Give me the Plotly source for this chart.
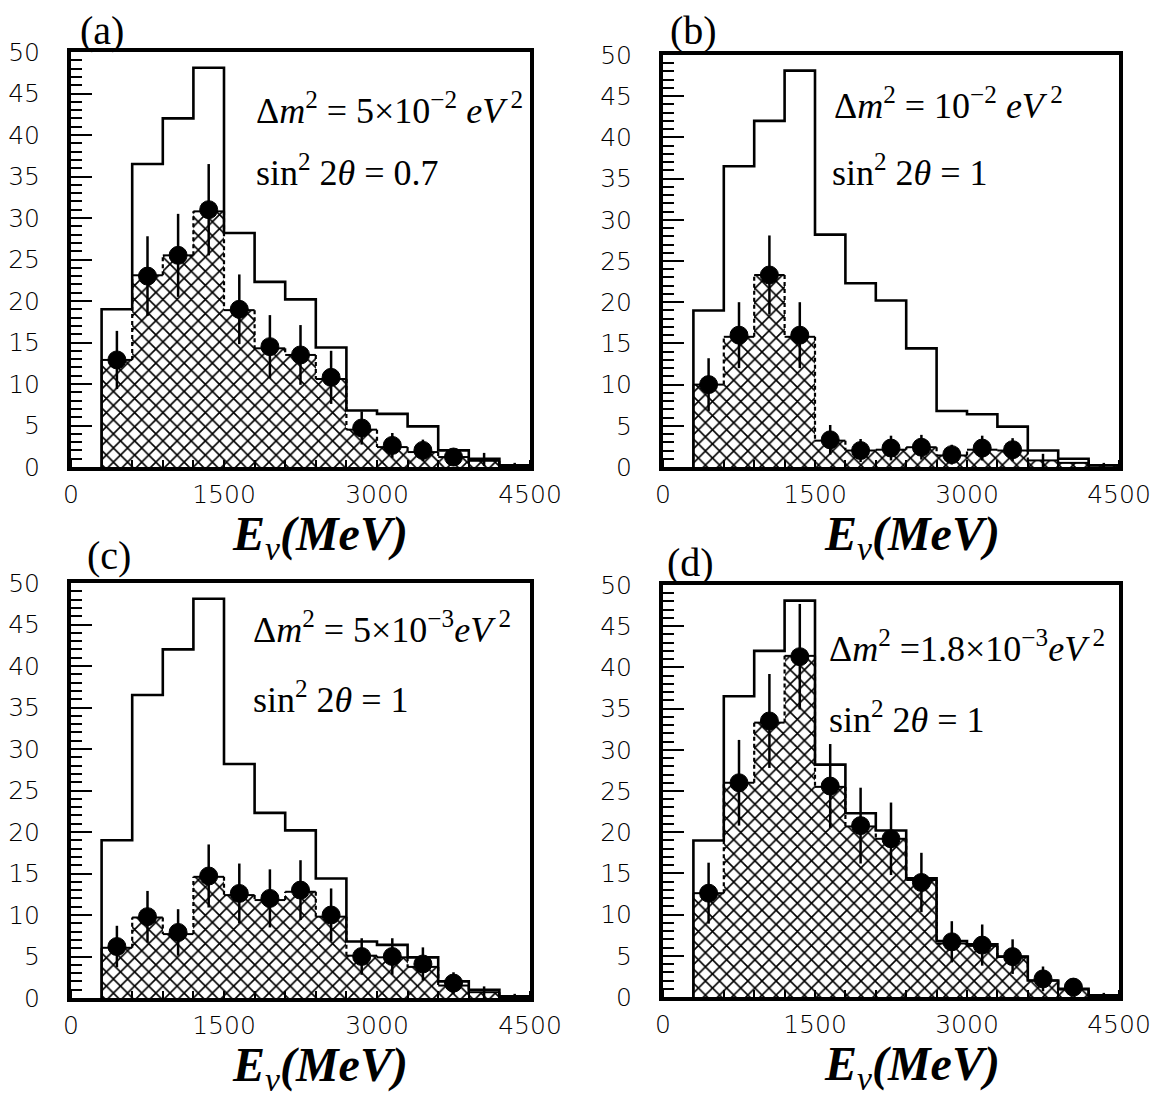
import plotly.graph_objects as go

# ---------------- data ----------------
bin_lo = 300
bin_w = 300
n_bins = 14
centers = [bin_lo + bin_w * (i + 0.5) for i in range(n_bins)]
edges = [bin_lo + bin_w * i for i in range(n_bins + 1)]

# no-oscillation expectation (open histogram), same in all panels
unosc = [19.0, 36.5, 42.0, 48.1, 28.2, 22.3, 20.2, 14.4, 6.8, 6.4, 4.9, 2.0, 1.0, 0.2]

# (a) dm2 = 5e-2, sin^2 2theta = 0.7
a_mc = [12.9, 23.1, 25.5, 30.8, 18.9, 14.3, 13.5, 10.6, 4.5, 2.4, 1.8, 1.2, 0.75, 0.1]
a_data = [12.9, 23.0, 25.5, 31.0, 19.0, 14.5, 13.5, 10.8, 4.7, 2.6, 2.0, 1.2, 0.9, 0.0]
a_err = [3.5, 4.8, 5.0, 5.5, 4.2, 3.8, 3.6, 3.2, 2.0, 1.5, 1.3, 1.0, 0.8, 0.5]
a_nmarked = 12

# (b) dm2 = 1e-2, sin^2 2theta = 1
b_mc = [10.0, 15.8, 23.3, 15.8, 3.2, 2.0, 2.1, 2.4, 1.4, 2.1, 2.0, 0.8, 0.5, 0.2]
b_data = [10.0, 16.0, 23.3, 16.0, 3.3, 2.0, 2.3, 2.4, 1.5, 2.3, 2.1, 0.8, 0.0, 0.0]
b_err = [3.2, 4.0, 4.8, 4.0, 1.8, 1.4, 1.5, 1.5, 1.2, 1.5, 1.4, 0.8, 0.0, 0.5]
b_nmarked = 11

# (c) dm2 = 5e-3, sin^2 2theta = 1
c_mc = [6.05, 9.7, 7.7, 14.6, 12.4, 11.8, 12.8, 9.8, 5.1, 4.9, 3.75, 1.5, 0.7, 0.1]
c_data = [6.2, 9.8, 7.9, 14.7, 12.6, 12.0, 13.0, 10.0, 5.0, 5.0, 4.1, 1.8, 0.7, 0.0]
c_err = [2.5, 3.1, 2.8, 3.8, 3.6, 3.5, 3.6, 3.2, 2.2, 2.2, 2.0, 1.3, 0.7, 0.5]
c_nmarked = 12

# (d) dm2 = 1.8e-3, sin^2 2theta = 1
d_mc = [12.6, 26.0, 33.3, 41.4, 25.5, 20.7, 19.2, 14.2, 6.5, 6.2, 4.9, 2.0, 0.9, 0.1]
d_data = [12.6, 26.0, 33.5, 41.3, 25.6, 20.8, 19.2, 13.9, 6.7, 6.3, 4.9, 2.2, 1.2, 0.0]
d_err = [3.7, 5.2, 5.7, 6.4, 5.1, 4.6, 4.4, 3.6, 2.5, 2.5, 2.1, 1.5, 1.1, 0.5]
d_nmarked = 13

panel_labels = ["(a)", "(b)", "(c)", "(d)"]
dm2_texts = [
    "Δ<i>m</i><sup>2</sup> = 5×10<sup>−2</sup> <i>eV</i><sup> 2</sup>",
    "Δ<i>m</i><sup>2</sup> = 10<sup>−2</sup> <i>eV</i><sup> 2</sup>",
    "Δ<i>m</i><sup>2</sup> = 5×10<sup>−3</sup><i>eV</i><sup> 2</sup>",
    "Δ<i>m</i><sup>2</sup> =1.8×10<sup>−3</sup><i>eV</i><sup> 2</sup>",
]
sin_texts = [
    "sin<sup>2</sup> 2<i>θ</i> = 0.7",
    "sin<sup>2</sup> 2<i>θ</i> = 1",
    "sin<sup>2</sup> 2<i>θ</i> = 1",
    "sin<sup>2</sup> 2<i>θ</i> = 1",
]
x_ticks = [0, 1500, 3000, 4500]
x_title = "<b><i>E</i></b><sub><i>ν</i></sub><b><i>(MeV)</i></b>"

# ---------------- layout geometry (pixels) ----------------
W, H = 1163, 1097
boxes = [  # x0, x1, ytop, ybottom
    (71, 530, 52, 467),
    (663, 1119, 55, 467),
    (71, 530, 583, 998),
    (663, 1119, 585, 997),
]

def fx(p):
    return p / W

def fy(p):
    return 1 - p / H

panels = [
    (a_mc, a_data, a_err, a_nmarked),
    (b_mc, b_data, b_err, b_nmarked),
    (c_mc, c_data, c_err, c_nmarked),
    (d_mc, d_data, d_err, d_nmarked),
]

fig = go.Figure()
tick_font = dict(family="DejaVu Sans", size=25, color="black", weight=300)
serif = "Liberation Serif"

for k, (mc, data, err, nmarked) in enumerate(panels):
    xa = "x" if k == 0 else f"x{k+1}"
    ya = "y" if k == 0 else f"y{k+1}"
    # hatched oscillated MC
    fig.add_trace(go.Bar(
        x=centers, y=mc, width=bin_w, xaxis=xa, yaxis=ya,
        marker=dict(color="white", opacity=1,
                    pattern=dict(shape="x", fgcolor="black", bgcolor="white",
                                 size=10, solidity=0.3, fillmode="replace"),
                    line=dict(width=0)),
        showlegend=False, hoverinfo="skip"))
    # outline of hatched histogram: solid tops, dashed risers
    tx, ty = [], []
    for i in range(n_bins):
        tx += [edges[i], edges[i + 1], None]
        ty += [mc[i], mc[i], None]
    fig.add_trace(go.Scatter(x=tx, y=ty, mode="lines", xaxis=xa, yaxis=ya,
                             line=dict(color="black", width=2),
                             showlegend=False, hoverinfo="skip"))
    rx, ry = [], []
    for i in range(1, n_bins):
        rx += [edges[i], edges[i], None]
        ry += [mc[i - 1], mc[i], None]
    rx += [edges[n_bins], edges[n_bins], None]
    ry += [mc[-1], 0, None]
    fig.add_trace(go.Scatter(x=rx, y=ry, mode="lines", xaxis=xa, yaxis=ya,
                             line=dict(color="black", width=2.2, dash="4px,3px"),
                             showlegend=False, hoverinfo="skip"))
    fig.add_trace(go.Scatter(x=[edges[0], edges[0]], y=[0, mc[0]], mode="lines",
                             xaxis=xa, yaxis=ya,
                             line=dict(color="black", width=2),
                             showlegend=False, hoverinfo="skip"))
    # open histogram (no oscillation)
    hx = [edges[0]] + edges[:-1] + [edges[-1]]
    hy = [0] + unosc + [0]
    fig.add_trace(go.Scatter(x=hx, y=hy, mode="lines", line_shape="hv",
                             xaxis=xa, yaxis=ya,
                             line=dict(color="black", width=2.6),
                             showlegend=False, hoverinfo="skip"))
    # data points with error bars
    sizes = [18 if i < nmarked else 0 for i in range(n_bins)]
    fig.add_trace(go.Scatter(
        x=centers, y=data, mode="markers", xaxis=xa, yaxis=ya,
        marker=dict(color="black", size=sizes, opacity=1,
                    line=dict(width=1, color="black")),
        opacity=1,
        error_y=dict(type="data", array=err, visible=True, color="black",
                     thickness=2.5, width=0),
        showlegend=False, hoverinfo="skip"))

    x0, x1, yt, yb = boxes[k]
    axis_common = dict(showline=True, linewidth=4, linecolor="black", mirror=True,
                       showgrid=False, zeroline=False, automargin=False)
    fig.layout[f"xaxis{'' if k == 0 else k+1}"] = dict(
        domain=[fx(x0), fx(x1)], anchor=ya, range=[0, 4500],
        tickvals=x_ticks, ticks="", tickfont=tick_font, ticklabelstandoff=2,
        minor=dict(ticks="inside", dtick=300, tick0=0, ticklen=7, tickwidth=1.5,
                   tickcolor="black"),
        **axis_common)
    fig.layout[f"yaxis{'' if k == 0 else k+1}"] = dict(
        domain=[fy(yb), fy(yt)], anchor=xa, range=[0, 50],
        dtick=5, tick0=0, ticks="inside", ticklen=21, tickwidth=2, tickcolor="black",
        tickfont=tick_font, ticklabelstandoff=22,
        minor=dict(ticks="inside", dtick=1, ticklen=11, tickwidth=1.5,
                   tickcolor="black"),
        **axis_common)

annotations = []
label_pos = [(102, 31), (693, 31), (109, 556), (690, 562)]
dm_pos = [(254, 108), (832, 104), (251, 627), (827, 646)]
sin_pos = [(254, 170), (830, 170), (251, 697), (827, 717)]
for k in range(4):
    x0, x1, yt, yb = boxes[k]
    annotations.append(dict(text=panel_labels[k], x=fx(label_pos[k][0]), y=fy(label_pos[k][1]),
                            xref="paper", yref="paper", xanchor="center", yanchor="middle",
                            showarrow=False, font=dict(family=serif, size=40, color="black")))
    annotations.append(dict(text=dm2_texts[k], x=fx(dm_pos[k][0]), y=fy(dm_pos[k][1]),
                            xref="paper", yref="paper", xanchor="left", yanchor="middle",
                            showarrow=False, font=dict(family=serif, size=36, color="black")))
    annotations.append(dict(text=sin_texts[k], x=fx(sin_pos[k][0]), y=fy(sin_pos[k][1]),
                            xref="paper", yref="paper", xanchor="left", yanchor="middle",
                            showarrow=False, font=dict(family=serif, size=36, color="black")))
    annotations.append(dict(text=x_title, x=fx(x0 + 249), y=fy(yb + 38),
                            xref="paper", yref="paper", xanchor="center", yanchor="top",
                            showarrow=False, font=dict(family=serif, size=48, color="black")))

fig.update_layout(width=W, height=H, margin=dict(l=0, r=0, t=0, b=0),
                  paper_bgcolor="white", plot_bgcolor="white",
                  barmode="overlay", bargap=0, annotations=annotations,
                  showlegend=False)

fig.write_html("out.html")
